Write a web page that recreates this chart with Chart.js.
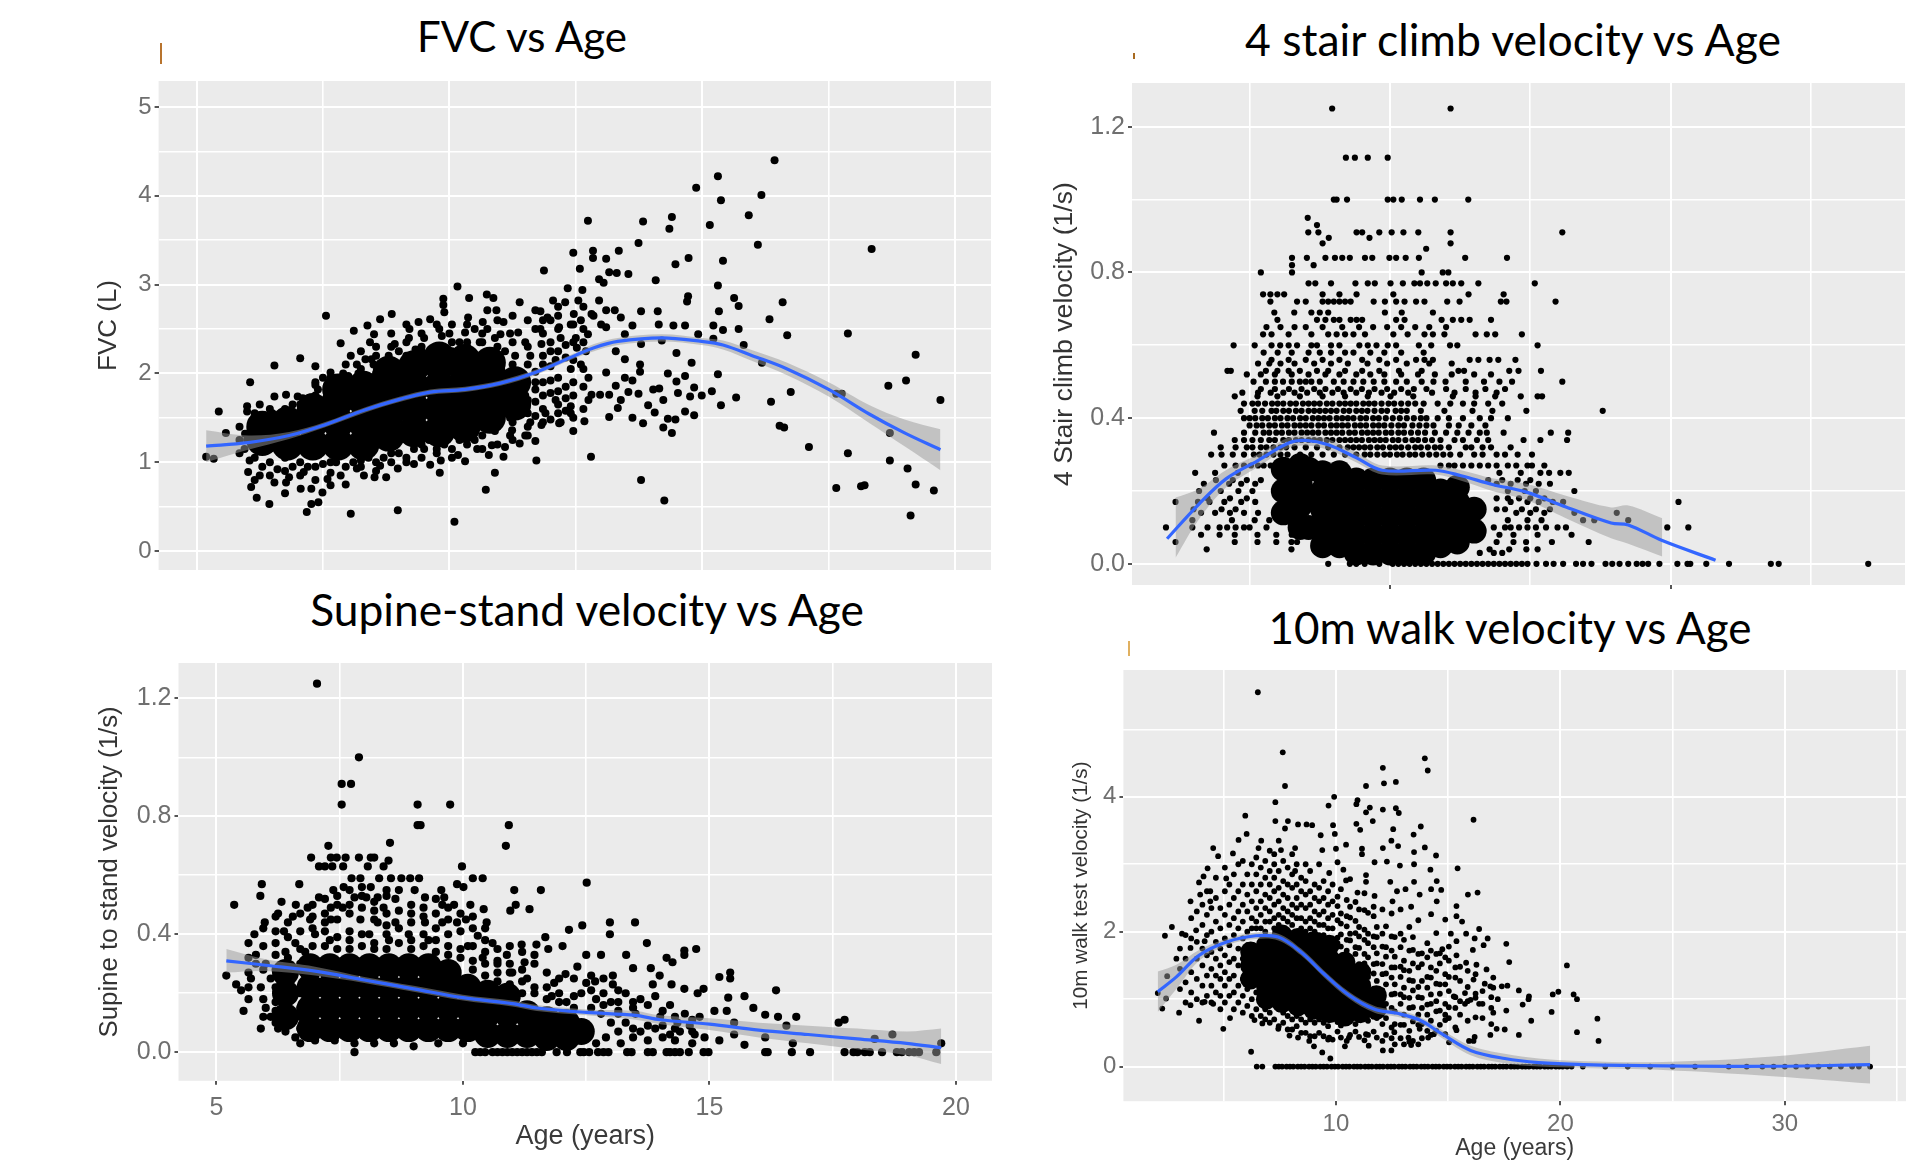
<!DOCTYPE html>
<html><head><meta charset="utf-8">
<script src="https://cdn.jsdelivr.net/npm/chart.js@4"></script>
<style>
html,body{margin:0;padding:0;background:#fff;width:1928px;height:1164px;overflow:hidden}
canvas{position:absolute}
.t{position:absolute;font-family:Lato,"Open Sans",sans-serif;color:#000;white-space:nowrap;transform:translate(-50%,-50%)}
.m{position:absolute}
</style></head><body>
<div class="t" style="left:522px;top:36px;font-size:42px">FVC vs Age</div>
<div class="t" style="left:1513px;top:38px;font-size:44.5px">4 stair climb velocity vs Age</div>
<div class="t" style="left:587px;top:608px;font-size:44.3px">Supine-stand velocity vs Age</div>
<div class="t" style="left:1510px;top:627px;font-size:44px">10m walk velocity vs Age</div>
<div class="m" style="left:160px;top:43px;width:2px;height:21px;background:#b8742e"></div>
<div class="m" style="left:1133px;top:53px;width:2px;height:6px;background:#a86a20"></div>
<div class="m" style="left:1128px;top:641px;width:2px;height:15px;background:#e0b060"></div>
<script>
// ---------- FVC panel
const fvcAgeValuePairs=[5.19,1.06,5.34,1.04,5.44,1.57,5.58,1.33,6.06,1.9,6,1.63,6,1.57,6.54,2.09,7.05,2.17,7.56,2.65,7.85,2.34,8.05,.42,7.18,.44,8.98,.46,10.1,.33,10.16,2.98,9.88,2.84,9.88,2.77,9.9,2.69,10.39,2.85,10.37,2.63,10.74,2.89,10.87,2.85,11.39,2.8,10.75,2.71,10.93,2.71,11.87,3.16,12.45,3.36,12.58,3.18,12.74,3.72,12.84,3.38,12.84,3.3,13.1,3.29,13.35,3.38,13.74,3.47,13.83,3.71,13.16,3.14,13.31,3.13,13.54,3.12,12.96,3.06,13.05,3.02,14.08,3.05,14.35,3.63,14.4,3.76,14.47,3.23,14.73,3.3,14.88,4.09,15.15,3.67,15.31,4.22,15.37,3.95,15.41,3.27,15.92,3.78,16.1,3.45,16.17,4.01,16.43,4.4,15.31,2.99,15.63,2.85,15.72,2.76,15.33,2.7,14.72,2.87,14.7,2.81,16.59,2.8,16.33,2.61,16.68,2.43,17.88,2.45,18.35,3.4,19.22,2.21,18.68,1.86,19.03,1.92,19.71,1.7,16.75,1.79,16.36,1.68,16.53,1.41,16.62,1.39,17.11,1.17,17.65,1.77,17.76,1.77,18.71,1.33,17.88,1.1,18.71,1.02,19.06,.93,17.65,.71,18.14,.73,18.21,.74,19.22,.75,19.58,.68,19.12,.4,14.25,.57,13.79,.8,12.8,1.06,10.72,.69,10.9,.88,12.45,1.35,11.7,1.24,11.72,1.02,11.39,1.21,11.07,1.06,11.1,1.17,
16.18,2.12,15.82,2.32,15.72,2.5,15.41,2.49,15.22,2.54,15.22,2.39,14.92,2.44,14.66,2.54,14.43,2.54,14.14,2.55,14.12,2.7,13.79,2.7,13.62,2.54,13.39,2.63,13.1,2.71,13.27,2.71,13.47,2.44,13.79,2.33,14.2,2.37,14.49,2.23,14.79,2.12,14.32,2,14.66,1.97,15.31,1.99,14.49,1.91,13.77,2.1,13.77,2.02,13.47,2.16,13.29,2.25,13.1,2.01,12.75,1.95,13.47,1.95,13.62,1.92,13.29,1.86,14.03,1.82,14.15,1.83,13.74,1.77,13.54,1.79,14.84,1.84,14.52,1.78,14.76,1.74,14.99,1.75,15.19,1.8,15.67,1.73,15.37,1.64,14.23,1.7,13.93,1.64,13.39,1.7,13.16,1.76,12.81,1.76,12.98,1.76,12.75,1.7,13.33,1.61,14.06,1.56,14.66,1.57,14.84,1.53,14.32,1.49,14.47,1.48,13.62,1.5,13.83,1.44,13.16,1.51,12.67,1.46,14.23,1.39,14.4,1.33,
8.86,2.67,8.63,2.61,8.38,2.54,8.11,2.48,8.51,2.44,8.43,2.35,8.05,2.2,8.34,2.16,9.21,2.5,9.39,2.58,9.62,2.61,10.66,2.58,11.07,2.58,11.7,2.71,12.05,2.82,12.29,2.8,12.34,2.96,12.63,2.94,12.96,2.82,12.46,2.67,12.81,2.67,11.94,2.63,12.17,2.52,11.7,2.5,11.36,2.46,11.01,2.44,10.31,2.46,9.85,2.42,8.92,2.33,9.33,2.27,12.74,2.44,13.1,2.52,12.52,2.29,11.82,2.33,
6.08,.72,6.19,.6,6.44,.53,6.54,.77,6.77,.77,7.06,.7,7.27,.7,7.49,.66,7.27,.53,7.41,.55,7.65,.74,7.85,.85,7.59,.81,8.31,.85,8.52,.83,8.75,.83,8.98,.93,9.3,.98,9.81,.88,9.62,.97,9.83,1.02,10.31,1.01,10.17,1.08,6.25,.85,6.83,.83,6.02,.89,7.12,.89,8.17,.93,10.55,1.15,10.84,1.19,9.5,1.15,8.63,.96,7.76,1,10.78,1.08,11.24,1.36,11.82,1.42,12.17,1.44,12.4,1.63,12.4,1.55,5.96,1.32,6.14,1.44,6.25,1.65,6.54,1.74,6.77,1.76,7,1.74,7.35,1.87,7.35,2.08,7.65,2.01,8,1.97,8.17,2.1,8.46,2.16,
11.2,1.5,11.4,1.6,11.6,1.45,11.5,1.75,11.7,1.9,11.9,1.55,12.1,1.7,12.2,1.45,12.3,1.85,12.4,2.05,12.1,2.15,11.85,2.1,11.6,2.2,11.3,2.2,11.1,2.25,12.6,2.1,12.7,2.25,12.5,2.4,12.2,2.4,12,2.35,11.8,2.5,12.4,2.55,12.6,2.6,12,2.6,11.8,2.7,12.15,2.75,12.55,2.82,12.85,2.65,13,2.55,11.5,2.35,11.2,2.45,10.9,2.4,10.6,2.35,10.75,2.5,11.5,1.3,11.2,1.3,10.9,1.35,10.5,1.25,10.2,1.25,9.9,1.2,9.6,1.25,9.3,1.15,9,1.1,8.7,1.05,8.4,1.05,8.1,1,7.8,1.08,7.5,.98,7.2,.95,6.9,.95,6.6,.92,6.3,.95,6.05,1.02,5.95,1.15,6,1.25,6.1,1.35,6.3,1.5,6.5,1.55,6.9,1.65,7.1,1.72,7.4,1.82,7.5,1.95,7.9,2,8.2,2,8.5,2.1,8.8,2.2,9,2.25,9.2,2.4,9.5,2.4,9.8,2.5,10,2.45,10.2,2.35,10.5,2.5,11.05,1.6];
const fvcColumns=[[5.85,[1.1,1.25,1.4]],[6.15,[1.05,1.2,1.55,.8]],[6.45,[.85,1,1.6,1.45]],[6.75,[.9,1.05,1.6,.65]],[7.05,[.85,1,1.65,1.55]],[7.35,[.8,.95,1.75,1.9]],[7.65,[.88,1,1.85,1.75,1.95]],[7.95,[.95,.75,1.9,2.1]],[8.25,[.95,1.02,1.9,2.05,2.25]],[8.55,[.9,1,2,2.2,2.3]],[8.85,[1,1.1,2.1,2.45,2.3]],[9.15,[1,1.05,2.2,2.35,2.55]],[9.45,[1.05,1.2,2.25,2.45,2.3]],[9.75,[1.1,1.15,2.3,2.55]],[10.05,[1.05,1.15,2.35,2.55,2.25]],[10.35,[1.2,1.3,2.3,2.35,2.55]],[10.65,[1.15,1.3,2.35,2.45]],[10.95,[1.2,1.4,2.15,2.3,2.6]],[11.25,[1.25,1.45,1.55,2.1,2.35,2.65]],[11.55,[1.3,1.4,1.55,1.7,2.1,2.3,2.6]],[11.7,[1.52,1.68,1.82,2.02]],[11.85,[1.45,1.6,1.75,1.9,2.2,2.45,2.6]],[12,[1.48,1.78,1.92,2.08,2.25]],[12.15,[1.55,1.65,1.8,1.95,2.25,2.5,2.65]],[12.3,[1.58,1.72,2.18,2.32]],[12.45,[1.5,1.75,1.9,2.15,2.35,2.55]],[12.65,[1.6,1.85,2.05,2.35,2.5,2.75]]];
const fvcCorePairs=[6.3,1.25,6.3,1.4,6.8,1.2,6.8,1.45,7.3,1.2,7.3,1.45,7.3,1.6,7.8,1.2,7.8,1.45,7.8,1.7,7.8,1.82,8.3,1.2,8.3,1.45,8.3,1.7,8.3,1.85,8.8,1.3,8.8,1.55,8.8,1.8,8.8,2.02,9.3,1.35,9.3,1.6,9.3,1.85,9.3,2.08,9.8,1.35,9.8,1.6,9.8,1.85,9.8,2.1,9.8,2.18,10.3,1.4,10.3,1.65,10.3,1.9,10.3,2.15,10.8,1.5,10.8,1.75,10.8,2,10.8,2.12,11.3,1.65,11.3,1.9];
const fvcLineAges=[5.19,6.02,6.83,7.53,8.34,9.03,9.62,10.31,11.01,11.7,12.48,12.86,13.33,14.2,14.99,15.41,15.99,16.68,17.5,18.31,19,19.71];
const fvcLineValues=[1.18,1.22,1.3,1.42,1.59,1.71,1.79,1.82,1.89,2.01,2.2,2.29,2.36,2.4,2.36,2.32,2.2,2.05,1.82,1.54,1.33,1.14];
const fvcBandLow=[1,1.14,1.26,1.39,1.56,1.68,1.76,1.79,1.86,1.98,2.17,2.25,2.32,2.36,2.32,2.27,2.14,1.98,1.74,1.44,1.18,.91];
const fvcBandHigh=[1.36,1.3,1.34,1.45,1.62,1.74,1.82,1.85,1.92,2.04,2.23,2.33,2.4,2.44,2.4,2.37,2.26,2.12,1.9,1.64,1.48,1.37];
// ---------- Stair panel: [value,[ages]]
const stairRows=[[1.25,[7.94,12.16]],[1.115,[8.43,8.75,9.21,9.92]],[1,[8,8.1,8.47,9.92,10.12,10.42,11.07,11.6,12.79]],[.95,[7.07]],[.93,[7.4]],[.91,[7.09,7.45,8.81,9.01,9.62,10.06,10.48,11.01,12.16,16.14]],[.895,[7.82,9.27]],[.88,[7.6,12.16]],[.865,[11.29]],[.84,[6.51,7.04,7.7,8.04,8.3,8.57,9.11,9.37,9.98,10.22,10.56,11.03,12.68,14.17]],[.82,[6.51,7.28]],[.8,[6.51,5.4,11.13,11.88,12.08]],[.77,[7.1,7.34,7.9,8.77,9.21,9.46,10.02,10.46,10.87,11.07,11.33,11.63,12,12.24,12.54,13.15,15.16]],[.74,[5.48,5.74,5.99,6.23,7.6,8.2,8.81,10.12,12.8,14.05]],[.72,[5.74,6.69,7,7.6,7.8,8,8.2,8.4,8.6,9.42,9.82,10.22,10.52,10.93,11.23,12.04,12.48,13.95,14.15,15.9]],[.69,[5.88,6.59,7.2,7.5,7.8,9.82,10.42,11.53]],[.67,[5.99,7.4,7.7,8,8.2,8.6,8.81,9.01,10.22,10.52,11.84,12.24,12.54,12.84,13.6]],[.65,[5.6,6.1,6.6,7,7.6,8.3,8.9,9.4,9.9,10.4,10.9,11.4,12]],[.63,[5.48,5.78,6.39,7.2,7.8,8.1,8.4,8.7,9.11,10.12,10.63,11.23,11.53,11.94,13.05,13.45,13.75,14.7]],[.6,[4.43,5.18,5.78,6.09,6.39,6.69,7.2,7.4,7.9,8.2,8.91,9.21,9.52,9.92,10.22,11.03,11.47,12.14,12.4,15.26]],[.58,[5.5,6,6.5,7.1,7.5,7.9,8.4,8.7,9.3,9.8,10.4,11.2]],[.56,[5.78,6.39,7,7.6,8.2,9.01,9.62,10.22,10.93,11.23,11.53,12.84,13.15,13.55,13.86,14.47]],[.55,[5.3,5.7,6.1,6.6,7.3,7.9,8.5,9.2,9.9,10.6,11.4,12.2]],[.53,[4.21,4.33,5.58,5.99,6.39,6.79,7.4,7.8,8.4,9.01,9.62,10.32,11.13,12.44,12.64,14.25,14.58,15.38]],[.52,[4.9,5.4,5.9,6.5,7.1,7.7,8.2,8.8,9.3,9.8,10.4,11,11.6,12.2,13,13.6]],[.5,[5.14,5.58,6.19,6.79,7.2,8,8.7,9.42,10.22,11.13,11.98,13.35,13.9,14.35,16.14,5.9,6.5,7,7.5,8.35,9.05,9.8,10.6,11.55,12.7]],[.48,[5.4,5.9,6.4,6.85,7.3,7.7,8.15,8.6,9,9.45,9.9,10.4,10.85,11.3,12,12.7,13.4,14.1]],[.47,[4.74,5.3,5.75,6.2,6.6,7.05,7.5,7.95,8.35,8.8,9.25,9.7,10.15,10.65,11.5,12.3,13.05,13.8]],[.46,[4.47,5.28,5.99,6.79,7.6,8.4,9.21,10.02,10.83,12.24,13.05,13.75,14.66,15.26,15.42]],[.44,[5.1,5.55,6,6.45,6.9,7.3,7.75,8.2,8.6,9.05,9.45,9.95,10.4,10.9,11.7,12.6,13.5,4.8,5.3,5.8,6.2,6.65,7.1,7.5,7.95,8.4,8.8,9.25,9.7,10.15,10.65,11.2,12.15,13,14]],[.42,[4.68,5.18,5.78,6.2,6.65,7.1,7.5,7.9,8.35,8.8,9.2,9.7,10.2,10.6,11.1,11.94,12.94,13.65,14.86,17.58,5.45,5.95,6.4,6.85,7.3,7.7,8.1,8.55,9,9.45,9.9,10.4]],[.4,[5,5.45,5.9,6.35,6.8,7.25,7.65,8.1,8.5,8.95,9.4,9.85,10.35,10.85,11.3,12.1,13.2,14.2,4.8,5.2,5.65,6.1,6.55,7,7.45,7.85,8.3,8.7,9.15,9.6,10.1,10.6,11.1,11.7,12.6,13.6]],[.38,[5.25,5.7,6.15,6.6,7,7.45,7.9,8.3,8.75,9.15,9.6,10.05,10.5,11.05,11.55,12.45,13.4,5,5.45,5.9,6.35,6.8,7.2,7.65,8.1,8.5,8.95,9.4,9.8,10.3,10.8,11.3,12.1,12.9]],[.36,[3.73,4.8,5.5,5.95,6.4,6.85,7.25,7.7,8.1,8.55,9,9.4,9.85,10.3,10.75,11.25,12,12.8,13.45,14.05,15.73,16.35,5.2,5.7,6.15,6.6,7.05,7.45,7.9,8.3,8.75,9.2,9.6,10.05,10.5,11,11.6,12.4,13.2]],[.34,[4.47,5.1,5.7,6.2,6.65,7.1,7.5,7.95,8.4,8.8,9.25,9.65,10.1,10.55,11,11.5,12.3,13.1,14.76,15.36,16.31,4.8,5.4,5.9,6.4,6.85,7.3,7.75,8.2,8.6,9,9.45,9.85,10.3,10.8,11.25,11.8,12.6,13.5]],[.32,[3.97,4.9,5.4,5.85,6.3,8.7,9.1,9.55,10,10.4,10.9,11.35,11.8,12.7,13.3,14.3,4.5,5.1,5.6,6.1,6.6,7,7.4,7.8,8.2,8.5,8.9,9.3,9.75,10.2,10.65,11.1,11.6,12.1,12.9,13.6]],[.3,[3.63,4.4,5.15,5.6,6.1,9.3,9.8,10.25,10.7,11.15,11.65,12.15,13,13.8,14.55,15.06,4,4.8,5.35,5.85,6.35,6.8,7.2,7.6,8,8.4,8.8,9.1,9.55,10,10.45,10.9,11.4,11.9,12.5,13.3,14.1]],[.27,[4.1,4.8,5.3,5.75,11.8,12.3,12.9,13.5,14.2,15.06,15.5,4.5,5.05,5.5,6,12.1,12.6,13.2,13.8,14.5,14.9]],[.25,[3.06,3.77,4.58,16.07,16.37,15.36,14.66,13.9,15.67]],[.23,[3.8,4.4,4.9,5.4,13.5,14,14.55,15]],[.22,[3.37,4.27,4.7,5.2,13.8,14.3,14.85,15.3,15.7]],[.2,[3.2,3.97,4.6,5.1,14.2,14.8,15.2,16.57]],[.18,[3.5,4.3,4.9,13.8,14.2,14.6,15,15.5]],[.17,[2.36,3.16,3.57,4.1,4.7,5.2,14.3,14.9,15.3,15.8,16.17,20.28]],[.15,[3,4,4.5,13.8,14.1,14.7,15.2,15.7]],[.14,[3.27,3.77,4.3,4.8,5.3,14.5,15,15.5,16.57,18.08]],[.12,[2.96,4.37,5.18,5.7,14.2,14.9,15.4,18.49,17.28,16.88]],[.1,[2.02,2.96,3.93,4.5,5,5.6,14.1,14.6,15.2,15.56,15.97,16.27,19.88,20.63,3.5,4.2,4.8,13.7,14.3,14.9]],[.08,[3.27,3.93,4.47,5.28,5.95,6.5,13.9,14.4,15.26,16.47]],[.06,[2.36,4.47,5.28,5.95,6.49,6.69,13.8,14.4,14.85,15.77,17.08]],[.04,[3.47,6.49,7.6,13.55,14.25,14.86,15.26]],[.03,[7.5,8.3,8.9,13.2,13.7,14]],[0,[7.8,8.57,8.8,9.1,9.62,10.1,10.3,10.5,10.7,10.9,11.1,11.3,11.5,11.7,11.9,12.1,12.3,12.5,12.7,12.9,13.1,13.3,13.5,13.7,13.9,14.1,14.3,14.5,14.7,14.9,15.22,15.56,15.83,16.17,16.63,16.88,17.18,17.68,17.92,18.18,18.49,18.79,19,19.2,19.6,20.24,20.6,20.7,21.27,22.08,23.57,23.85,27.04]]];
const stairCorePairs=[7.6,.05,7.6,.1,7.6,.15,7.6,.2,7.6,.25,8.2,.05,8.2,.1,8.2,.15,8.2,.2,8.2,.25,8.8,.03,8.8,.08,8.8,.13,8.8,.18,8.8,.23,9.4,.03,9.4,.08,9.4,.13,9.4,.18,9.4,.23,10,.03,10,.08,10,.13,10,.18,10,.23,10.6,.03,10.6,.08,10.6,.13,10.6,.18,10.6,.23,11.2,.03,11.2,.08,11.2,.13,11.2,.18,11.2,.23,11.8,.05,11.8,.1,11.8,.15,11.8,.2,12.4,.06,12.4,.11,12.4,.17,12.4,.21,13,.09,13,.15,6.2,.14,6.2,.2,6.2,.26,6.8,.1,6.8,.16,6.8,.22,6.8,.27,7.1,.1,7.1,.18,7.1,.26];
const stairLineAges=[2.06,3.17,4.17,5.28,6.39,7,7.8,8.81,9.72,11.63,12.54,13.65,14.86,16.27,17.88,18.49,19.7,21.6];
const stairLineValues=[.069,.162,.234,.283,.332,.339,.327,.291,.257,.257,.242,.218,.197,.156,.112,.107,.064,.01];
const stairBandAges=[2.36,3.17,4.17,5.28,6.39,7,7.8,8.81,9.72,11.63,12.54,13.65,14.86,16.27,17.88,18.49,19.7];
const stairBandLow=[.017,.12,.21,.265,.318,.325,.313,.278,.245,.245,.228,.2,.175,.125,.07,.055,.02];
const stairBandHigh=[.182,.205,.258,.3,.347,.353,.342,.305,.27,.27,.257,.235,.22,.187,.155,.16,.125];
// ---------- Supine panel
const supineAgeValuePairs=[7.04,1.25,7.89,1,7.54,.91,7.73,.91,7.54,.84,9.08,.84,9.74,.84,9.08,.77,9.14,.77,10.93,.77,10.87,.7,8.52,.71,7.27,.7,6.92,.66,7.32,.66,7.44,.66,7.62,.66,7.89,.66,8.13,.66,8.2,.66,8.49,.65,7.08,.63,7.2,.63,7.35,.63,7.57,.63,8.07,.63,8.39,.63,9.98,.63,6.68,.57,5.92,.57,5.89,.53,5.36,.5,7.74,.59,7.92,.59,8.3,.59,8.54,.59,8.75,.59,8.93,.59,9.11,.59,10.2,.59,10.4,.59,9.88,.57,10.01,.56,9.56,.55,9.02,.55,11.04,.55,11.58,.55,12.51,.575,7.37,.55,7.58,.56,8.13,.56,8.45,.55,7.08,.525,7.8,.525,8.04,.525,8.27,.525,8.63,.52,9.23,.525,9.62,.525,6.32,.51,6.61,.5,6.85,.49,7.32,.49,7.56,.49,8.39,.49,9.58,.5,9.82,.5,10.15,.5,10.42,.485,11.07,.5,11.35,.485,10.96,.48,6.25,.47,6.55,.46,6.9,.45,7.32,.45,7.92,.45,8.27,.44,8.63,.44,9.23,.44,9.58,.44,9.88,.44,10.06,.45,10.48,.44,5.98,.44,5.77,.4,6.37,.41,12.98,.44,12.98,.4,13.49,.44,12.42,.43,12.15,.415,13.73,.37,14.73,.35,14.49,.345,14.49,.33,14.13,.32,14.25,.305,13.31,.33,12.8,.33,12.5,.33,12.32,.29,11.67,.39,12.02,.36,11.73,.35,11.49,.365,11.19,.365,10.6,.37,10.3,.395,10.89,.33,11.25,.305,13.45,.285,13.81,.285,13.99,.26,13.04,.26,15.42,.27,15.2,.255,15.42,.25,14.88,.215,14.76,.2,14.49,.215,14.23,.23,13.85,.23,13.04,.23,12.5,.235,12.68,.24,12.08,.265,11.85,.235,16.35,.21,15.71,.19,15.38,.185,15.89,.15,16.13,.127,16.39,.12,16.76,.12,17.74,.11,17.62,.1,16.56,.09,16.13,.05,16.69,.03,15.71,.025,18.71,.06,18.35,.045,19.7,.03,
5.2,.26,5.4,.23,5.5,.21,5.55,.14,5.9,.08,6,.15,6.1,.12,6.25,.08,6.4,.07,6.6,.05,6.7,.03,7,.04,7.3,.05,5.7,.25,5.8,.3,5.65,.37,5.8,.33,6,.3,6.2,.37,6.4,.34,6.6,.37,6.8,.34,7,.4,7.3,.38,7.7,.38,8.1,.4,8.5,.38,8.9,.4,9.3,.38,9.7,.36,10.1,.36,10.4,.32,10.7,.3,11,.27,11.3,.25,5.9,.22,6.1,.25,6.3,.2,6.5,.25,6.7,.15,6.2,.17,7.4,.04,7.8,.03,8.2,.03,8.6,.03,9,.02,9.5,.03,10,.03,11.8,.19,12.1,.17,12.4,.2,12.7,.18,13,.17,13.3,.2,13.6,.18,13.9,.19,14.2,.16,14.5,.13,14.8,.12,15.1,.14,15.35,.14,15.5,.1,13,.1,13.3,.1,13.6,.07,13.9,.08,14.2,.06,14.4,.07,14.7,.06,14.9,.05,15.2,.04,15.5,.06,12.9,.05,13.2,.03,12.8,.13,13.5,.13,14,.12,14.35,.1,14.6,.09,12.7,.03,
7.8,0,10.25,0,10.35,0,10.45,0,10.6,0,10.7,0,10.8,0,10.9,0,11,0,11.1,0,11.2,0,11.3,0,11.4,0,11.5,0,11.6,0,11.9,0,12.11,0,12.38,0,12.45,0,12.56,0,12.74,0,12.85,0,12.95,0,13.33,0,13.42,0,13.75,0,13.85,0,14.13,0,14.2,0,14.3,0,14.4,0,14.58,0,14.88,0,14.98,0,16.13,0,16.18,0,16.67,0,17.04,0,17.74,0,17.92,0,18,0,18.15,0,18.25,0,18.5,0,18.8,0,18.9,0,19.05,0,19.15,0,19.25,0,19.6,0];
const supineColumns=[[5.65,[.27,.32,.22,.18]],[5.95,[.12,.18,.28,.36,.42]],[6.2,[.1,.14,.22,.28,.33,.41,.46]],[6.45,[.1,.16,.22,.29,.32,.39,.44]],[6.7,[.08,.12,.2,.3,.35,.41,.47]],[6.95,[.05,.36,.42,.46,.5]],[7.2,[.36,.41,.44,.52,.47]],[7.45,[.35,.39,.45,.5,.53]],[7.7,[.35,.41,.47,.5,.55]],[7.95,[.36,.4,.49,.53,.56]],[8.2,[.35,.37,.45,.48,.51]],[8.45,[.35,.4,.43,.47,.53]],[8.7,[.37,.42,.48,.55]],[8.95,[.35,.38,.44,.47,.5]],[9.2,[.36,.4,.46,.49]],[9.45,[.34,.38,.42,.47,.52]],[9.7,[.33,.4,.45,.49]],[9.95,[.32,.35,.41,.47]],[10.2,[.28,.31,.36,.42,.46]],[10.45,[.26,.3,.34,.38,.42]],[10.7,[.24,.27,.31,.35]],[10.95,[.23,.27,.3,.36]],[11.2,[.2,.24,.28,.34]],[11.45,[.2,.22,.3,.33]],[11.7,[.18,.22,.27]],[11.95,[.17,.2,.25]],[12.25,[.15,.19,.25]],[12.6,[.15,.21,.26]],[12.85,[.16,.2,.25]],[13.15,[.07,.13,.17,.21,.14]],[13.45,[.05,.08,.15,.17]],[13.75,[.04,.09,.16]],[14.05,[.05,.09,.14]],[14.3,[.04,.08,.12]],[14.65,[.03,.07,.11]]];
const supineCorePairs=[6.4,.12,6.4,.2,6.4,.27,6.9,.08,6.9,.15,6.9,.22,6.9,.29,7.3,.08,7.3,.15,7.3,.22,7.3,.29,7.7,.08,7.7,.15,7.7,.22,7.7,.29,8.1,.08,8.1,.15,8.1,.22,8.1,.29,8.5,.08,8.5,.15,8.5,.22,8.5,.29,8.9,.08,8.9,.15,8.9,.22,8.9,.29,9.3,.08,9.3,.15,9.3,.22,9.3,.29,9.7,.08,9.7,.15,9.7,.22,9.7,.27,10.1,.08,10.1,.15,10.1,.22,10.5,.06,10.5,.13,10.5,.2,10.9,.06,10.9,.13,10.9,.19,11.3,.06,11.3,.13,11.7,.05,11.7,.11,12.1,.05,12.1,.1,12.4,.07];
const supineLineAges=[5.2,6,7,8,9,10,11,11.5,12.5,13.5,14,15,16,17,18,19,19.7];
const supineLineValues=[.31,.295,.275,.245,.215,.185,.165,.15,.135,.125,.11,.095,.075,.06,.045,.03,.015];
const supineBandLow=[.27,.275,.26,.235,.205,.175,.155,.14,.125,.11,.095,.075,.05,.03,.01,-.01,-.04];
const supineBandHigh=[.35,.315,.29,.255,.225,.195,.175,.16,.145,.14,.125,.115,.1,.09,.08,.07,.08];
// ---------- Walk panel
const walkAgeValuePairs=[6.52,5.55,7.63,4.66,13.96,4.57,14.09,4.39,12.09,4.43,12.14,4.2,12.67,4.22,11.34,4.16,7.73,4.16,9.92,4,9.67,3.87,7.3,3.92,10.96,3.95,10.91,3.89,11.51,3.84,12.09,3.81,12.67,3.83,12.8,3.76,5.96,3.72,7.3,3.64,7.86,3.64,11.34,3.77,11.64,3.64,16.13,3.66,13.78,3.56,10.91,3.6,9.87,3.58,12.55,3.52,11.08,3.51,13.46,3.44,9.95,3.45,7.73,3.53,8.31,3.59,8.69,3.59,8.94,3.58,9.32,3.43,6.02,3.45,5.66,3.36,6.67,3.35,12.47,3.35,12.77,3.27,10.45,3.29,4.53,3.24,4.75,3.12,5.41,3.16,6.55,3.24,7.55,3.21,8.18,3.24,9.39,3.21,10,3.23,11.16,3.23,12.09,3.24,13.96,3.25,13.48,3.18,14.46,3.13,11.16,3.15,11.72,3.03,12.27,3.04,12.85,2.98,13.48,3,14.21,2.92,15.42,2.94,4.28,2.94,4.1,2.82,3.9,2.73,3.95,2.55,3.52,2.45,4.4,2.45,4.4,2.6,5.11,2.79,10.33,2.92,9.7,2.87,8.18,2.9,10.45,2.76,11.34,2.84,11.34,2.74,12.42,2.74,13.48,2.74,14.49,2.75,14.24,2.63,14.69,2.62,15.88,2.55,16.31,2.58,15.37,2.38,13.1,2.63,12.72,2.6,13.73,2.55,12.52,2.45,13.35,2.37,11.72,2.53,10.96,2.58,14.49,2.45,14.24,2.26,14.87,2.18,15.37,2.23,15.62,2.15,16.38,2.04,15.12,1.97,15.8,1.97,16.76,1.9,16.18,1.9,15.37,1.86,17.59,1.82,16.58,1.8,16.1,1.73,15.37,1.65,14.74,1.74,17.72,1.55,15.8,1.54,16.26,1.51,16.71,1.44,20.29,1.5,16.13,1.29,17.01,1.32,16.63,1.23,16.88,1.19,17.64,1.2,17.39,1.19,18.15,1.13,19.91,1.11,19.66,1.07,20.59,1.07,20.74,1,18.6,1.04,18.58,1,18.32,.92,17.21,1,17.59,.83,17.01,.8,19.61,.81,18.7,.68,21.65,.71,17.16,.56,17.52,.55,18.15,.47,20.74,.51,21.7,.38,16.88,.47,16.18,.44,15.93,.38,16.13,.38,15.37,.54,15.04,.36,14.36,.48,14.11,.43,13.35,.32,12.47,.24,12.09,.24,11.46,.31,10.4,.3,9.75,.12,9.39,.21,9.02,.3,7.93,.46,6.22,.22,4.98,.56,3.9,.68,3.01,.8,2.26,.86,2.06,1.09,2.48,1.34,2.89,1.6,2.38,1.94,2.69,2.07,3.14,1.97,3.52,1.76,3.77,2.02,4.15,1.86,2.43,1.01,3.52,.91,4.15,.96,4.53,.93,5.28,.72,6.37,.69,6.72,.64,7.43,.56,8.31,.43,8.81,.38,9.7,.43,10.58,.43,11.34,.48,12.6,.51,13.23,.43,13.73,.56,14.87,.69,15.75,.93,16.38,.93,17.01,1.17,15.25,1.04,15.75,1.09,16,.99,
6.47,0,6.72,0,7.3,0,7.45,0,7.6,0,7.8,0,7.95,0,8.1,0,8.3,0,8.45,0,8.6,0,8.8,0,8.95,0,9.1,0,9.3,0,9.45,0,9.6,0,9.8,0,9.95,0,10.1,0,10.3,0,10.45,0,10.6,0,10.8,0,10.95,0,11.1,0,11.3,0,11.45,0,11.6,0,11.8,0,11.95,0,12.1,0,12.3,0,12.45,0,12.6,0,12.8,0,12.95,0,13.1,0,13.3,0,13.45,0,13.6,0,13.8,0,13.95,0,14.1,0,14.3,0,14.45,0,14.6,0,14.8,0,14.95,0,15.1,0,15.3,0,15.45,0,15.6,0,15.8,0,15.95,0,16.1,0,16.3,0,16.45,0,16.6,0,16.8,0,16.95,0,17.1,0,17.3,0,17.45,0,17.6,0,17.8,0,17.95,0,18.1,0,18.3,0,18.45,0,18.6,0,18.8,0,18.95,0,19.1,0,19.3,0,19.45,0,19.6,0,19.8,0,19.95,0,20.1,0,20.3,0,20.5,0,21,0,22,0,23,0,24,0,25,0,26,0,27.5,0,28.3,0,29,0,29.5,0,30,0,30.5,0,31,0,31.5,0,32,0,32.5,0,33,0,33.3,0,33.8,0];
const walkColumns=[[3.05,[1.15,1.45,1.75]],[3.3,[.95,1.25,1.6,1.95]],[3.55,[1.1,1.4,1.9,2.2]],[3.8,[1,1.3,1.6,1.85,2.3]],[4.05,[.95,1.2,1.5,1.75,2.1,2.4]],[4.25,[1.05,1.35,1.65,1.95,2.25,2.6]],[4.45,[.95,1.2,1.45,1.7,2,2.35]],[4.65,[1.1,1.35,1.6,1.85,2.15,2.5,2.8]],[4.85,[.85,1.05,1.3,1.5,1.75,2.05,2.35]],[5.05,[.95,1.2,1.4,1.65,1.9,2.25,2.6,2.95]],[5.25,[1.05,1.3,1.55,1.8,2.1,2.4,2.7]],[5.45,[.85,1.1,1.35,1.6,1.95,2.2,2.5,2.85]],[5.65,[.95,1.2,1.5,1.75,2.05,2.3,2.6,3]],[5.85,[.8,1.05,1.3,1.6,1.9,2.15,2.4,2.7,3.05]],[6.05,[.9,1.15,1.45,1.8,2,2.3,2.55,2.85]],[6.25,[.75,1,1.25,2.05,2.2,2.45,2.7,3]],[6.45,[.85,1.1,2.05,2.15,2.35,2.6,2.85,3.1]],[6.65,[.75,.95,2.05,2.25,2.45,2.7,2.95]],[6.85,[.7,.85,2,2.15,2.35,2.55,2.8,3.05]],[7.05,[.65,.8,2.15,2.3,2.5,2.7,2.9,3.2]],[7.25,[.7,2.05,2.2,2.4,2.6,2.8,3,3.15]],[7.45,[.6,.85,2.1,2.25,2.45,2.65,2.9,3.35]],[7.65,[.65,.8,2.05,2.2,2.35,2.55,2.75,3.05]],[7.85,[.55,.75,2,2.15,2.3,2.5,2.7,2.95]],[8.05,[.55,.7,1.95,2.1,2.25,2.4,2.65,2.85,3.15]],[8.25,[.6,.75,2,2.2,2.35,2.5,2.7,3]],[8.45,[.5,.7,1.9,2.05,2.2,2.4,2.6,2.8]],[8.65,[.5,.65,1.85,2,2.15,2.35,2.55,2.75,3]],[8.85,[.45,.7,1.85,2.05,2.2,2.4,2.6,2.9]],[9.05,[.45,.65,1.85,2,2.15,2.3,2.5,2.7]],[9.25,[.5,.7,1.75,1.95,2.1,2.25,2.45,2.65,3]],[9.45,[.45,.65,1.8,1.95,2.1,2.3,2.5,2.75]],[9.65,[.4,.6,1.7,1.9,2.05,2.2,2.4,2.6]],[9.85,[.4,.7,1.7,1.85,2.05,2.25,2.45,2.7]],[10.07,[.52,.66,1.63,1.83,1.91,2.17,2.38,2.52,3.03]],[10.22,[.43,.61,1.57,1.78,1.96,2.12,2.27,2.63]],[10.48,[.38,.68,1.53,1.72,1.88,2.08,2.23,2.47]],[10.63,[.47,.71,1.49,1.62,1.87,1.97,2.21,2.37,2.78]],[10.87,[.52,.63,1.42,1.67,1.77,1.98,2.16,2.44]],[11.03,[.44,.69,1.37,1.52,1.76,1.93,2.07,2.33]],[11.27,[.39,.72,1.28,1.53,1.67,1.88,2.03,2.32,2.57]],[11.43,[.47,.68,1.33,1.43,1.62,1.83,1.97,2.28]],[11.68,[.52,.74,1.13,1.38,1.52,1.77,1.93,2.23,2.37]],[11.82,[.43,.72,1.12,1.27,1.53,1.68,1.92,2.07]],[12.07,[.38,.63,.92,1.13,1.37,1.52,1.78,1.97,2.33]],[12.23,[.47,.72,.93,1.22,1.38,1.63,1.77,2.08]],[12.48,[.42,.58,.87,1.07,1.32,1.47,1.72,1.93,2.27]],[12.62,[.33,.63,.82,1.08,1.22,1.47,1.63,1.92]],[12.88,[.42,.62,.93,1.07,1.33,1.48,1.77,1.97,2.33]],[13.03,[.33,.62,.77,1.03,1.17,1.43,1.57,1.88]],[13.27,[.37,.53,.87,1.02,1.28,1.42,1.72,2.07]],[13.43,[.38,.67,.88,1.13,1.27,1.53,1.73,1.92]],[13.67,[.33,.62,.77,1.03,1.18,1.47,1.67,2.17]],[13.83,[.42,.63,.87,1.02,1.27,1.52,1.68]],[14.07,[.53,.77,.92,1.17,1.33,1.62,1.83]],[14.23,[.47,.68,.93,1.07,1.32,1.47,1.72]],[14.47,[.53,.82,.97,1.23,1.42,1.67,1.98]],[14.63,[.62,.83,1.08,1.22,1.53,1.68]],[14.87,[.48,.77,.93,1.22,1.37,1.62]],[15.03,[.72,.88,1.12,1.33,1.57,1.78]],[15.32,[.58,.87,1.03,1.32,1.47]],[15.53,[.77,.97,1.27,1.48]],[15.87,[.68,.97,1.18,1.42]],[16.22,[.73,1.02,1.08,1.37]],[16.53,[.72,.93,1.12]],[16.92,[.63,.87,1.03]]];
const walkCorePairs=[6.2,1.3,6.2,1.5,6.2,1.7,6.9,1,6.9,1.2,6.9,1.4,6.9,1.6,6.9,1.8,7.6,.95,7.6,1.15,7.6,1.35,7.6,1.55,7.6,1.75,7.6,1.95,8.3,.9,8.3,1.1,8.3,1.3,8.3,1.5,8.3,1.7,8.3,1.9,9,.85,9,1.05,9,1.25,9,1.45,9,1.65,9,1.85,9.7,.8,9.7,1,9.7,1.2,9.7,1.4,9.7,1.6,9.7,1.8,10.4,.75,10.4,.95,10.4,1.15,10.4,1.35,10.4,1.55,11.1,.8,11.1,1,11.1,1.2,11.1,1.4,11.8,.85,11.8,1.05];
const walkLineAges=[2.06,2.89,3.9,5.16,6.42,7.43,8.44,9.45,10.58,11.72,12.72,13.73,14.74,16,17.52,19.03,21.05,24.58,29.62,33.8];
const walkLineValues=[1.11,1.33,1.65,1.85,1.94,1.92,1.7,1.38,1.06,.85,.79,.69,.48,.24,.12,.06,.03,.01,.005,.03];
const walkBandLow=[.81,1.15,1.57,1.8,1.89,1.87,1.65,1.33,1.01,.8,.74,.64,.42,.17,.05,0,-.02,-.05,-.145,-.25];
const walkBandHigh=[1.41,1.51,1.73,1.9,1.99,1.97,1.75,1.43,1.11,.9,.84,.74,.54,.31,.19,.12,.08,.07,.155,.31];

const ageTicksLabelled=[10,20,30];
function xy(flat){const o=[];for(let i=0;i+1<flat.length;i+=2)o.push({x:flat[i],y:flat[i+1]});return o;}
function zip(a,b){return a.map((v,i)=>({x:v,y:b[i]}));}
function fromRows(rows){const o=[];rows.forEach(r=>r[1].forEach(a=>o.push({x:a,y:r[0]})));return o;}
function fromCols(cols){const o=[];cols.forEach(c=>c[1].forEach(v=>o.push({x:c[0],y:v})));return o;}
function noPad(s){s.paddingTop=0;s.paddingBottom=0;s.paddingLeft=0;s.paddingRight=0;}

function panel(c){
  const lh=c.yTitleSize*1.2, xlh=(c.xTitleSize||0)*1.2;
  const left=c.yTitleX-lh/2, yw=c.L-left;
  const xh=c.xTitleY?(c.xTitleY+xlh/2-(c.T+c.H)):8;
  const cv=document.createElement('canvas');
  cv.width=c.W+yw;cv.height=c.H+xh;
  cv.style.left=left+'px';cv.style.top=c.T+'px';
  cv.style.width=cv.width+'px';cv.style.height=cv.height+'px';
  document.body.appendChild(cv);
  const band='rgba(153,153,153,0.5)';
  const ds=[
   {label:'points',data:c.points,order:4,pointRadius:c.r,pointBackgroundColor:'#000',pointBorderWidth:0,showLine:false},
   {label:'dense',data:c.core,order:5,pointRadius:c.coreR,pointBackgroundColor:'#000',pointBorderWidth:0,showLine:false},
   {label:'upper',data:c.hi,order:3,showLine:true,pointRadius:0,borderWidth:0,tension:.35,fill:'+1',backgroundColor:band},
   {label:'lower',data:c.lo,order:3,showLine:true,pointRadius:0,borderWidth:0,tension:.35,fill:false},
   {label:'smooth',data:c.line,order:1,showLine:true,pointRadius:0,borderColor:'#3366FF',borderWidth:3.2,tension:.35,fill:false}
  ];
  new Chart(cv,{type:'scatter',data:{datasets:ds},options:{
    responsive:false,animation:false,devicePixelRatio:1,
    layout:{autoPadding:false,padding:0},
    plugins:{legend:{display:false},tooltip:{enabled:false}},
    scales:{
     x:{type:'linear',min:c.xmin,max:c.xmax,
        afterFit:s=>{s.height=xh;noPad(s);},
        border:{display:false},
        grid:{color:'#fff',lineWidth:t=>c.xMajors.includes(t.tick.value)?2:1.6,tickLength:4,tickColor:t=>c.xLabels.includes(t.tick.value)?'#555':'rgba(0,0,0,0)'},
        ticks:{stepSize:c.xStep,includeBounds:false,autoSkip:false,maxRotation:0,color:'#6f6f6f',padding:c.xPad||6,font:{family:'"Liberation Sans Narrow","Liberation Sans"',size:c.tickSize},
          callback:v=>c.xLabels.includes(v)?String(v):''},
        title:{display:!!c.xTitle,text:c.xTitle,color:'#3a3a3a',padding:0,font:{family:'"Liberation Sans Narrow","Liberation Sans"',size:c.xTitleSize||10}}},
     y:{type:'linear',min:c.ymin,max:c.ymax,
        afterFit:s=>{s.width=yw;noPad(s);},
        border:{display:false},
        grid:{color:'#fff',lineWidth:t=>c.yLabels.includes(+t.tick.value.toFixed(2))?2:1.6,tickLength:4,tickColor:t=>c.yLabels.includes(+t.tick.value.toFixed(2))?'#555':'rgba(0,0,0,0)'},
        ticks:{stepSize:c.yStep,includeBounds:false,autoSkip:false,color:'#6f6f6f',padding:3,font:{family:'"Liberation Sans Narrow","Liberation Sans"',size:c.tickSize},
          callback:v=>{const r=+v.toFixed(2);return c.yLabels.includes(r)?(c.yFixed?r.toFixed(1):String(r)):'';}},
        title:{display:true,text:c.yTitle,color:'#333',padding:0,font:{family:'"Liberation Sans"',size:c.yTitleSize}}}
    }},
    plugins:[{id:'bg',beforeDraw(ch){const a=ch.chartArea,g=ch.ctx;g.save();g.fillStyle='#EBEBEB';g.fillRect(a.left,a.top,a.right-a.left,a.bottom-a.top);g.restore();}}]
  });
}

panel({L:159,T:81,W:833,H:489,xmin:4.25,xmax:20.71,ymin:-.214,ymax:5.293,xStep:2.5,yStep:.5,
  xMajors:[5,10,15,20],xLabels:[],yLabels:[0,1,2,3,4,5],tickSize:24,r:4,coreR:16,
  yTitle:'FVC (L)',yTitleX:109,yTitleSize:26,
  points:xy(fvcAgeValuePairs).concat(fromCols(fvcColumns)),core:xy(fvcCorePairs),line:zip(fvcLineAges,fvcLineValues),lo:zip(fvcLineAges,fvcBandLow),hi:zip(fvcLineAges,fvcBandHigh)});
panel({L:1132,T:83,W:773,H:502,xmin:.81,xmax:28.35,ymin:-.058,ymax:1.32,xStep:5,yStep:.2,
  xMajors:[10,20],xLabels:[10,20],yLabels:[0,.4,.8,1.2],yFixed:true,tickSize:25,r:3.1,coreR:12.5,
  yTitle:'4 Stair climb velocity (1/s)',yTitleX:1065,yTitleSize:26.7,
  points:fromRows(stairRows),core:xy(stairCorePairs),line:zip(stairLineAges,stairLineValues),lo:zip(stairBandAges,stairBandLow),hi:zip(stairBandAges,stairBandHigh)});
panel({L:178,T:663,W:814,H:418,xmin:4.23,xmax:20.73,ymin:-.097,ymax:1.32,xStep:2.5,yStep:.2,
  xMajors:[5,10,15,20],xLabels:[5,10,15,20],yLabels:[0,.4,.8,1.2],yFixed:true,tickSize:25,r:4.1,coreR:13.5,
  yTitle:'Supine to stand velocity (1/s)',yTitleX:109,yTitleSize:25.8,
  xTitle:'Age (years)',xTitleY:1137,xTitleSize:27,xPad:8,
  points:xy(supineAgeValuePairs).concat(fromCols(supineColumns)),core:xy(supineCorePairs),line:zip(supineLineAges,supineLineValues),lo:zip(supineLineAges,supineBandLow),hi:zip(supineLineAges,supineBandHigh)});
panel({L:1123,T:670,W:783,H:432,xmin:.53,xmax:35.4,ymin:-.513,ymax:5.88,xStep:5,yStep:1,
  xMajors:ageTicksLabelled,xLabels:ageTicksLabelled,yLabels:[0,2,4],tickSize:24,r:2.9,coreR:10.5,
  yTitle:'10m walk test velocity (1/s)',yTitleX:1081,yTitleSize:20.7,
  xTitle:'Age (years)',xTitleY:1149,xTitleSize:23,xPad:5,
  points:xy(walkAgeValuePairs).concat(fromCols(walkColumns)),core:xy(walkCorePairs),line:zip(walkLineAges,walkLineValues),lo:zip(walkLineAges,walkBandLow),hi:zip(walkLineAges,walkBandHigh)});
</script>
</body></html>
